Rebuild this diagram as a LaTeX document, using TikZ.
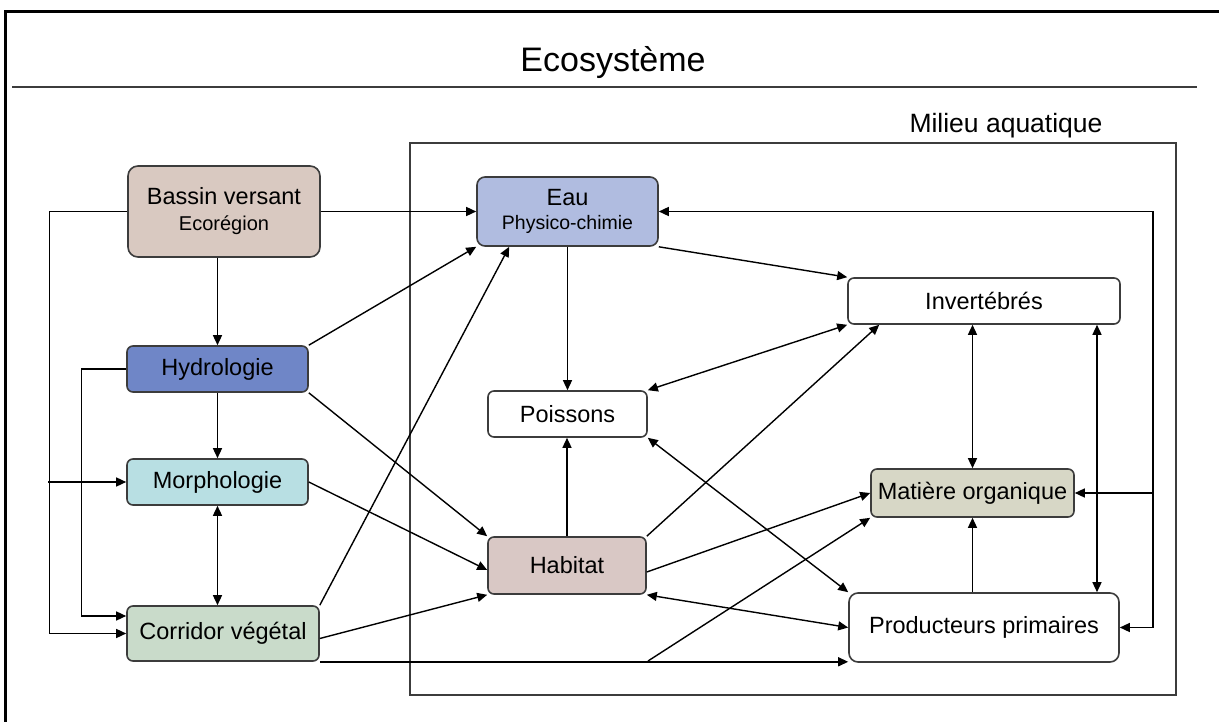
\documentclass[tikz,border=0pt]{standalone}
\usepackage{fontspec}
\setmainfont{Liberation Sans}
\usetikzlibrary{arrows.meta,calc}
\definecolor{cBas}{HTML}{D9C9C1}
\definecolor{cHyd}{HTML}{6F86C7}
\definecolor{cMor}{HTML}{B8DFE3}
\definecolor{cCor}{HTML}{C9DBCA}
\definecolor{cEau}{HTML}{B0BCE0}
\definecolor{cHab}{HTML}{D9C8C5}
\definecolor{cMat}{HTML}{D7D7C6}
\definecolor{cBord}{HTML}{3C3C3C}
\tikzset{
  box/.style={draw=cBord, line width=1.6pt, rounded corners=6pt, rectangle, inner sep=0pt,
    font=\fontsize{23.5}{27}\selectfont, align=center},
  conn/.style={line width=1.4pt, draw=black},
  arr/.style={conn, -{Triangle[length=10pt,width=9pt]}},
  arrb/.style={conn, {Triangle[length=10pt,width=9pt]}-{Triangle[length=10pt,width=9pt]}},
}
\begin{document}
\begin{tikzpicture}[x=1pt,y=-1pt]
\useasboundingbox (0,0) rectangle (1219,722);
% frame
\draw[line width=3pt, line join=miter] (5,722) -- (5,12) -- (1219,12);
\node[font=\fontsize{34}{38}\selectfont, anchor=base] (title) at (613,72) {Ecosystème};
\draw[line width=1.6pt, draw=cBord] (12,87) -- (1197,87);
\node[font=\fontsize{26.5}{30}\selectfont, anchor=base] (milieu) at (1006,133) {Milieu aquatique};
\draw[line width=1.6pt, draw=cBord] (410,143) rectangle (1176,695);
% nodes
\node[box, fill=cBas, rounded corners=10pt, minimum width=192pt, minimum height=91pt] (bas) at (224,211.5)
  {Bassin versant\\[-1pt]{\fontsize{20}{22}\selectfont Ecorégion}};
\node[box, fill=cHyd, minimum width=181pt, minimum height=46pt] (hyd) at (217.5,369) {Hydrologie};
\node[box, fill=cMor, minimum width=181pt, minimum height=46pt] (mor) at (217.5,482) {Morphologie};
\node[box, fill=cCor, minimum width=192pt, minimum height=55pt] (cor) at (223,633.5) {Corridor végétal};
\node[box, fill=cEau, rounded corners=8pt, minimum width=181pt, minimum height=69pt] (eau) at (567.5,211.5)
  {Eau\\[-3pt]{\fontsize{19.5}{22}\selectfont Physico-chimie}};
\node[box, fill=white, minimum width=159pt, minimum height=46pt] (poi) at (567.5,414) {Poissons};
\node[box, fill=white, minimum width=272pt, minimum height=46pt] (inv) at (984,301) {Invertébrés};
\node[box, fill=cHab, minimum width=158pt, minimum height=57pt] (hab) at (567,565.5) {Habitat};
\node[box, fill=cMat, minimum width=203pt, minimum height=48pt] (mat) at (972.5,493) {Matière organique};
\node[box, fill=white, rounded corners=9pt, minimum width=270pt, minimum height=69pt] (pro) at (984,627.5) {Producteurs primaires};
% free-end coordinates
\coordinate (mi) at (48,482);
\coordinate (br) at (648,661);
\coordinate (fbt) at (1153,211.5);
\coordinate (fbb) at (1153,627.5);
% left side
\draw[arr] (hyd.north |- bas.south) -- (hyd.north);
\draw[arr] (bas.west) -- ++(-78,0) |- (cor.west);
\draw[arr] (hyd.west) -- ++(-45,0) |- ([yshift=17.5pt]cor.west);
\draw[arr] (mi) -- (mor.west);
\draw[arr] (hyd.south) -- (mor.north);
\draw[arrb] (mor.south) -- (mor.south |- cor.north);
% to aquatic
\draw[arr] (bas.east) -- (eau.west);
\draw[arr] (hyd.north east) -- (eau.south west);
\draw[arr] (hyd.south east) -- (hab.north west);
\draw[arr] (mor.east) -- ([yshift=-4.5pt]hab.west);
\draw[arr] (cor.north east) -- ([xshift=33pt]eau.south west);
\draw[arr] ([yshift=-5pt]cor.east) -- (hab.south west);
\draw[arr] (cor.south east) -- (cor.south east -| pro.west);
\draw[arr] (br) -- (mat.south west);
% inside
\draw[arr] (eau.south) -- (poi.north);
\draw[arr] (eau.south east) -- (inv.north west);
\draw[arrb] (poi.north east) -- (inv.south west);
\draw[arr] (hab.north) -- (hab.north |- poi.south);
\draw[arr] (hab.north east) -- ([xshift=32pt]inv.south west);
\draw[arr] ([yshift=-6.5pt]hab.east) -- (mat.west);
\draw[arrb] (poi.south east) -- (pro.north west);
\draw[arrb] (hab.south east) -- (pro.west);
\draw[arrb] (mat.north) -- (mat.north |- inv.south);
\draw[arrb] ([xshift=113pt]inv.south) -- ([xshift=113pt]inv.south |- pro.north);
\draw[arr] (pro.north -| mat.south) -- (mat.south);
% feedback loop
\draw[arr] (fbt) -- (eau.east);
\draw[conn] (fbt) -- (fbb);
\draw[arr] (fbb) -- (pro.east);
\draw[arr] (fbt |- mat.east) -- (mat.east);
\end{tikzpicture}
\end{document}
